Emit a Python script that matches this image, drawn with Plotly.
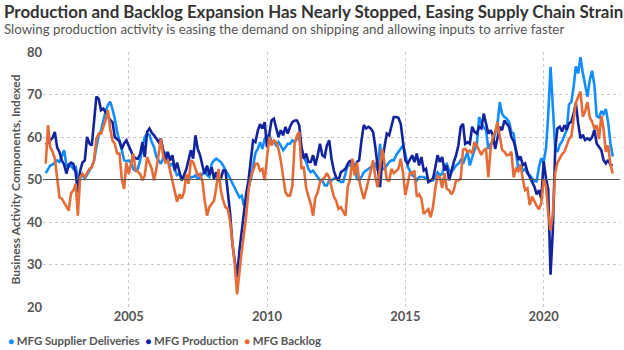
import pandas as pd
import plotly.graph_objects as go

# ---------------- data (monthly, Jan 2002 - Jul 2022) ----------------
start_month = "2002-01-01"

supplier_deliveries = [
    51.5, 52.5, 53.3, 53.5, 54.0, 54.5, 54.1, 55.3, 56.9, 53.3, 53.0, 53.3,  # 2002
    52.5, 52.9, 50.6, 50.6, 51.0, 50.2, 51.0, 52.1, 53.0, 54.5, 57.6, 60.4,  # 2003
    61.5, 63.9, 66.0, 67.5, 68.3, 66.5, 64.3, 61.2, 59.2, 57.0, 54.5, 54.3,  # 2004
    54.5, 54.0, 52.5, 52.1, 52.5, 54.5, 57.6, 60.0, 60.8, 60.5, 58.8, 57.6,  # 2005
    55.3, 54.5, 53.7, 55.0, 56.5, 54.5, 53.3, 53.7, 52.5, 51.0, 51.3, 50.5,  # 2006
    50.2, 50.6, 49.8, 50.6, 50.6, 51.0, 50.2, 50.6, 51.3, 52.1, 51.0, 50.6,  # 2007
    53.7, 54.5, 54.9, 54.5, 54.1, 53.3, 52.1, 51.3, 50.2, 49.4, 48.2, 46.9,  # 2008
    45.8, 46.2, 43.9, 45.5, 48.2, 50.0, 53.0, 56.3, 57.2, 58.8, 57.2, 59.6,  # 2009
    60.4, 60.4, 59.0, 58.8, 58.0, 58.8, 58.0, 56.9, 57.6, 58.4, 58.4, 59.2,  # 2010
    58.8, 59.6, 59.6, 57.2, 55.3, 54.1, 52.5, 51.7, 52.1, 51.3, 50.6, 49.8,  # 2011
    49.8, 48.6, 48.6, 49.8, 49.8, 50.2, 50.2, 49.8, 49.4, 49.4, 51.7, 53.3,  # 2012
    53.3, 54.5, 52.9, 50.2, 49.8, 50.6, 51.7, 52.1, 52.5, 52.9, 53.3, 53.7,  # 2013
    52.1, 58.4, 52.5, 52.5, 53.3, 54.1, 54.5, 54.5, 55.7, 56.5, 57.2, 58.0,  # 2014
    56.1, 53.0, 52.1, 51.0, 50.6, 49.8, 50.6, 50.6, 50.6, 50.2, 49.8, 49.8,  # 2015
    49.8, 50.6, 51.7, 51.0, 51.3, 53.3, 53.7, 52.1, 51.7, 52.5, 53.3, 53.7,  # 2016
    54.5, 53.7, 54.9, 56.5, 53.3, 55.3, 56.9, 58.0, 64.7, 63.1, 62.4, 61.6,  # 2017
    57.2, 58.4, 58.8, 60.8, 63.1, 68.2, 65.5, 64.7, 64.3, 63.5, 61.2, 60.8,  # 2018
    56.1, 52.2, 53.5, 52.0, 52.5, 51.4, 51.0, 50.3, 49.6, 49.6, 53.0, 55.0,  # 2019
    54.0, 57.3, 65.0, 76.5, 66.0, 57.5, 56.5, 58.2, 59.0, 60.5, 61.7, 67.7,  # 2020
    68.2, 72.0, 76.6, 75.0, 78.8, 75.1, 72.5, 69.5, 73.4, 75.6, 72.2, 64.9,  # 2021
    64.6, 66.1, 65.4, 66.6, 63.5, 58.5, 55.4,                                # 2022
]

production = [
    58.2, 58.6, 59.2, 59.8, 61.2, 57.5, 56.5, 54.5, 53.5, 51.4, 53.5, 54.0,  # 2002
    53.7, 51.5, 47.0, 52.0, 54.0, 54.5, 60.0, 58.5, 58.0, 63.5, 69.5, 69.0,  # 2003
    66.3, 66.7, 66.0, 65.0, 64.0, 63.5, 60.0, 59.5, 59.0, 57.2, 58.5, 59.2,  # 2004
    58.0, 57.0, 55.5, 55.0, 54.9, 56.0, 58.8, 55.3, 61.2, 62.0, 61.0, 60.4,  # 2005
    59.6, 58.8, 59.6, 56.9, 54.5, 56.5, 54.5, 55.7, 52.1, 54.0, 51.7, 49.8,  # 2006
    51.0, 52.5, 54.5, 56.9, 54.9, 60.4, 57.2, 55.7, 53.3, 51.3, 53.3, 51.0,  # 2007
    52.9, 50.2, 51.7, 49.8, 50.2, 52.1, 52.1, 47.4, 41.9, 34.8, 31.0, 27.0,  # 2008
    33.2, 38.0, 42.7, 46.7, 49.8, 55.3, 59.2, 58.8, 61.5, 63.0, 62.0, 63.5,  # 2009
    57.6, 60.8, 63.9, 64.3, 62.4, 60.0, 61.6, 60.4, 62.4, 60.8, 62.4, 63.5,  # 2010
    63.9, 63.9, 62.8, 57.6, 54.9, 56.1, 54.1, 54.1, 55.7, 53.3, 55.7, 58.4,  # 2011
    55.7, 55.3, 58.0, 59.2, 54.9, 52.1, 50.5, 49.8, 51.7, 52.1, 52.5, 53.7,  # 2012
    54.5, 53.3, 52.1, 54.1, 54.5, 59.2, 62.8, 62.0, 62.4, 62.0, 61.2, 57.6,  # 2013
    52.1, 48.2, 54.5, 58.0, 60.8, 60.4, 62.4, 64.7, 64.7, 64.5, 63.1, 58.4,  # 2014
    54.5, 53.7, 54.5, 55.7, 54.1, 56.1, 53.3, 55.3, 52.1, 52.5, 49.4, 49.8,  # 2015
    50.2, 52.9, 55.7, 54.1, 55.3, 52.1, 53.3, 49.8, 52.1, 54.1, 55.7, 58.0,  # 2016
    62.4, 63.1, 58.4, 58.8, 58.4, 62.4, 61.2, 60.8, 62.4, 62.0, 65.5, 63.5,  # 2017
    60.8, 61.6, 60.4, 57.2, 59.6, 62.4, 61.6, 63.9, 63.1, 62.4, 60.0, 59.0,  # 2018
    56.9, 54.6, 55.4, 53.4, 53.8, 51.8, 50.6, 49.4, 48.3, 46.5, 47.5, 45.5,  # 2019
    54.3, 50.3, 47.7, 27.6, 38.0, 57.0, 62.0, 62.4, 61.3, 62.8, 61.7, 63.2,  # 2020
    63.6, 65.6, 68.1, 63.2, 59.7, 60.5, 59.3, 59.7, 59.3, 59.9, 61.7, 58.5,  # 2021
    57.7, 56.9, 54.6, 53.8, 54.6, 53.4, 53.4,                                # 2022
]

backlog = [
    53.7, 62.8, 57.6, 56.5, 55.0, 50.6, 45.8, 45.5, 44.5, 43.5, 42.7, 46.8,  # 2002
    47.4, 49.0, 41.5, 50.6, 51.3, 50.6, 51.7, 52.5, 52.9, 54.5, 59.6, 60.8,  # 2003
    60.8, 62.5, 63.9, 66.3, 62.0, 59.2, 58.4, 56.1, 56.1, 50.2, 47.8, 54.0,  # 2004
    51.3, 53.7, 56.1, 52.3, 51.7, 51.3, 49.8, 51.0, 55.3, 53.7, 52.5, 49.8,  # 2005
    52.5, 56.1, 59.6, 55.5, 54.0, 54.5, 52.0, 50.0, 47.0, 44.8, 46.5, 45.5,  # 2006
    47.0, 51.3, 49.0, 54.5, 54.1, 52.5, 51.0, 51.3, 49.5, 45.0, 41.5, 43.5,  # 2007
    44.3, 45.0, 48.0, 52.5, 47.4, 45.0, 43.5, 43.1, 40.0, 35.0, 30.0, 23.0,  # 2008
    28.5, 33.2, 37.0, 41.5, 47.5, 50.5, 52.1, 53.7, 53.7, 52.1, 52.5, 49.8,  # 2009
    55.3, 60.0, 58.0, 59.2, 58.8, 57.2, 54.5, 50.6, 47.0, 46.2, 46.2, 48.5,  # 2010
    58.5, 60.4, 61.2, 52.5, 53.0, 48.0, 46.2, 44.2, 41.5, 45.8, 47.0, 49.4,  # 2011
    50.0, 50.5, 51.5, 50.5, 48.2, 46.0, 45.0, 43.1, 43.5, 42.5, 41.5, 48.2,  # 2012
    50.0, 54.9, 51.0, 54.0, 49.8, 47.5, 45.4, 47.5, 49.5, 52.0, 54.5, 50.6,  # 2013
    48.2, 52.5, 57.2, 53.7, 50.0, 49.5, 52.5, 51.5, 52.1, 52.5, 54.9, 51.5,  # 2014
    46.3, 49.5, 51.5, 51.5, 52.1, 46.0, 46.5, 45.5, 41.9, 42.5, 43.0, 41.1,  # 2015
    43.5, 48.0, 50.8, 50.5, 48.0, 51.5, 47.8, 47.5, 46.5, 47.5, 49.8, 49.8,  # 2016
    50.2, 57.0, 57.2, 56.5, 56.8, 56.1, 58.8, 58.0, 57.0, 55.8, 56.9, 57.2,  # 2017
    50.5, 57.5, 60.0, 61.2, 63.5, 60.0, 57.0, 56.5, 55.7, 55.8, 56.5, 50.5,  # 2018
    52.5, 52.0, 53.5, 50.0, 47.5, 47.9, 44.0, 46.0, 44.8, 43.8, 43.0, 44.5,  # 2019
    50.0, 48.5, 42.0, 38.0, 42.0, 51.5, 54.0, 55.0, 56.0, 56.5, 58.3, 59.5,  # 2020
    60.2, 64.5, 68.0, 69.5, 70.7, 64.8, 66.0, 68.2, 64.6, 63.6, 62.0, 62.8,  # 2021
    59.5, 65.0, 62.0, 56.5, 58.0, 53.5, 51.4,                                # 2022
]

series_names = ["MFG Supplier Deliveries", "MFG Production", "MFG Backlog"]
series_colors = ["#118DFF", "#12239E", "#E66C37"]
y_ticks = [20, 30, 40, 50, 60, 70, 80]
x_tick_years = ["2005", "2010", "2015", "2020"]

title_text = "Production and Backlog Expansion Has Nearly Stopped, Easing Supply Chain Strain"
subtitle_text = ("Slowing production activity is easing the demand on shipping "
                 "and allowing inputs to arrive faster")
y_title = "Business Activity Components, Indexed"

dates = pd.date_range(start_month, periods=len(production), freq="MS")

# ---------------- layout geometry ----------------
W, H = 624, 350
L, R, T, B = 43, 4, 52, 43
PW, PH = W - L - R, H - T - B

def paper_x(px):
    return (px - L) / PW

def paper_y(py):
    return (H - B - py) / PH

FONT = "Segoe UI, Lato, sans-serif"
TXT = "#555555"

fig = go.Figure()
for name, vals, col in zip(series_names,
                           [supplier_deliveries, production, backlog],
                           series_colors):
    fig.add_trace(go.Scatter(x=dates, y=vals, mode="lines", name=name,
                             line=dict(color=col, width=2.6),
                             showlegend=False))

fig.add_hline(y=50, line=dict(color="#555555", width=1.2), layer="above")

legend_html = "  ".join(
    f"<span style='color:{c};font-size:10px'>●</span> {n}"
    for n, c in zip(series_names, series_colors))

fig.update_layout(
    width=W, height=H,
    margin=dict(l=L, r=R, t=T, b=B),
    paper_bgcolor="white", plot_bgcolor="white",
    font=dict(family=FONT, color=TXT, size=13),
    xaxis=dict(type="date", range=["2001-11-26", "2022-10-05"],
               tickvals=[f"{y}-01-01" for y in x_tick_years],
               ticktext=x_tick_years,
               showgrid=True, gridcolor="#C8C8C8", griddash="dot", gridwidth=1,
               zeroline=False, showline=False, ticks="",
               tickfont=dict(size=13, color=TXT, weight="bold")),
    yaxis=dict(range=[20, 80], tickvals=y_ticks,
               showgrid=True, gridcolor="#C8C8C8", griddash="dot", gridwidth=1,
               zeroline=False, showline=False, ticks="",
               tickfont=dict(size=13, color=TXT, weight="bold")),
    annotations=[
        dict(text=f"<b>{title_text}</b>", xref="paper", yref="paper",
             x=paper_x(2), y=paper_y(12), xanchor="left", yanchor="middle",
             showarrow=False, font=dict(size=16.9, color="#333333", family=FONT)),
        dict(text=subtitle_text, xref="paper", yref="paper",
             x=paper_x(2), y=paper_y(29), xanchor="left", yanchor="middle",
             showarrow=False, font=dict(size=13.3, color=TXT, family=FONT)),
        dict(text=f"<b>{y_title}</b>", xref="paper", yref="paper",
             x=paper_x(15), y=0.5, xanchor="center", yanchor="middle",
             textangle=-90, showarrow=False,
             font=dict(size=12, color=TXT, family=FONT)),
        dict(text=f"<b>{legend_html}</b>", xref="paper", yref="paper",
             x=paper_x(6), y=paper_y(340), xanchor="left", yanchor="middle",
             showarrow=False, font=dict(size=11.4, color=TXT, family=FONT)),
    ],
)

fig.write_html("out.html")
